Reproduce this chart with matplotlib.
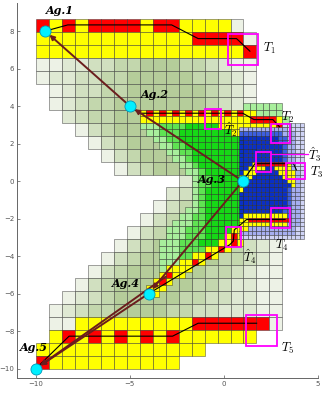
import matplotlib
matplotlib.use('Agg')
import matplotlib.pyplot as plt
from matplotlib.patches import Rectangle
from matplotlib.collections import PatchCollection

# ---------------- data ----------------
agent_names = ['Ag.1', 'Ag.2', 'Ag.3', 'Ag.4', 'Ag.5']
agent_x = [-9.5, -5.0, 1.0, -4.0, -10.0]
agent_y = [8.0, 4.0, 0.0, -6.0, -10.0]
agent_label_xy = [(-9.45, 9.1), (-4.4, 4.6), (-1.4, 0.1), (-5.97, -5.45), (-10.85, -8.9)]

# brown arrows (from -> to)
arrow_from = [(-5.0, 4.0), (1.0, 0.0), (1.0, 0.0), (-4.0, -6.0), (-3.1, -5.1)]
arrow_to = [(-9.5, 8.0), (-5.0, 4.0), (-4.0, -6.0), (-10.0, -10.0), (-10.0, -10.0)]

# planned paths (black)
path1_x = [-9.5, -8.3, -2.78, -1.37, 0.67, 1.38]
path1_y = [8.0, 8.33, 8.33, 7.6, 7.6, 6.93]
path2_x = [-5.0, -4.5, 1.0, 1.6, 2.6, 2.95]
path2_y = [4.0, 3.62, 3.62, 3.28, 3.28, 2.9]
path3_x = [1.0, 1.65, 3.7, 3.85]
path3_y = [0.0, 0.93, 0.93, 0.6]
path4_x = [3.25, 1.2, 0.85, 0.55, 0.5, 0.3, -4.0]
path4_y = [-2.05, -2.05, -2.35, -2.6, -3.2, -3.4, -6.0]
path5_x = [-10.0, -8.23, -2.73, -1.37, 1.74]
path5_y = [-10.0, -8.27, -8.27, -7.58, -7.58]

# target boxes: x0, y0, w, h
target_boxes = [(0.2, 6.19, 1.62, 1.63), (2.5, 2.04, 1.0, 1.0), (-1.0, 2.8, 0.85, 1.07),
                (3.28, 0.09, 1.03, 0.85), (1.7, 0.5, 0.8, 1.03), (2.5, -2.52, 1.01, 1.07),
                (0.1, -3.5, 0.8, 1.04), (1.17, -8.78, 1.65, 1.62)]
target_labels = [r'$T_1$', r'$T_2$', r'$\hat{T}_2$', r'$T_3$', r'$\hat{T}_3$', r'$T_4$', r'$\hat{T}_4$', r'$T_5$']
target_label_xy = [(2.4, 7.05), (3.4, 3.38), (0.36, 2.75), (4.9, 0.48), (4.85, 1.4),
                   (3.05, -3.45), (1.4, -4.05), (3.36, -8.95)]

# coarse cells (0.69), rows top (y=8.63) to bottom (y=-10), cols from x=-10
coarse_rows = [
    "RYRYRRRRYRRYYYY1...",
    "YYYYYYYYYYYYRRRR1..",
    "YYYYYYYYYYYYYYYYR..",
    "11223344555443211..",
    "12233445555544321..",
    ".1233445555554321..",
    ".1234455555554321..",
    "..234455555554321..",
    "...13455555543321..",
    "....1345555543321..",
    ".....134555543321..",
    "......13455543321..",
    "...........23455432",
    "..........234554321",
    ".........1345554321",
    "........13455554321",
    ".......134555554321",
    "......1345555554321",
    ".....13455555544321",
    "....134555555443211",
    "...1345555554432211",
    "..12345555544332211",
    ".123445555443322211",
    ".11YYYYYYYYYRRRRRR1",
    ".YRYRYRYRYRYYYYYY..",
    "YYYYYYYYYYYYY......",
    "RYYYYYYYYYY........",
]

# fine cells (0.345), rows top (k=40) to bottom (k=11), cols from x=-4.48
fine_rows = [
    "................llllll.",
    "yryryryryryryryryyllll.",
    "yyyyyyyyyyyyyyyyyrrrryl",
    "lllmmmmGGGGGyyyyyyyyyry",
    ".llmmmGGGGGGGGyy.......",
    "..llmmGGGGGGGGGG.......",
    "...llmmGGGGGGGGG.......",
    "....llmmGGGGGGGG.......",
    ".....llmGGGGGGGG.......",
    "......llmGGGGGGG.......",
    ".......llmGGGGGG.......",
    "........lmmGGGGG.......",
    "........lmmGGGGG.......",
    "........lmGGGGGG.......",
    "........lmGGGGGG.......",
    "........lmGGGGGG.......",
    ".......llmGGGGGG.......",
    "......llmmGGGGGG.......",
    ".....lllmmGGGGGG.......",
    "....lllmmmGGGGyy.......",
    "....lllmmmGGGyry.......",
    "...lllmmmGGGyyry.......",
    "...lllmmmmyyry.........",
    "...lllmmyyry...........",
    "...lllyyry.............",
    "...lyyyy...............",
    "...yryy................",
    "..yry..................",
    ".yyy...................",
    ".ry....................",
]

# finest cells (0.23) around Ag.3, rows top (k=56) to bottom (k=30), cols from x=0.81
blue_rows = [
    "..........ccccc",
    "bbbbbbbbbbbcccc",
    "BBBBBBBBBBbbbcc",
    "DDDDDDDDDBBbbcc",
    "DDDDDDDDDBBbbcc",
    "DDDDDDDDDDBbbcc",
    "DDDDDDDDDDBbbcc",
    "DDDDDDDDDDBbbcc",
    "DDDDDDDDDDBbbcc",
    "DDDyrrrrrrrybcc",
    "DDyyyyDDyyyybcc",
    "DyyyDDDDDyyyybc",
    "yyyDDDDDDDyyybc",
    "yyDDDDDDDDDyybc",
    "yDDDDDDDDDDDybc",
    "yDDDDDDDDDDBbbc",
    "DDDDDDDDDDDBbbc",
    "DDDDDDDDDDDBbbc",
    "DDDDDDDDDDDBbbc",
    "DDDDDDDDDDDBbbc",
    "DDDDDDDDDDBBbbc",
    "DyyyyyyyyyyBbbc",
    "yyrrrrrrrrrrbbc",
    "yyyyyyyyyyybbbc",
    "yybbbbbbbbbbbcc",
    "bbbbbbbbbbbbbcc",
    "ccccccccccccccc",
]

palette = {
    'R': '#ff0000', 'r': '#ff0000', 'Y': '#ffff00', 'y': '#ffff00',
    '1': '#edf2e6', '2': '#dfe9d3', '3': '#d1e0c0', '4': '#c3d7ad', '5': '#b5cd9a',
    'l': '#a8ee9c', 'm': '#5fe352', 'G': '#16d816',
    'D': '#0a2fc6', 'B': '#3d5fe0', 'b': '#a6aef0', 'c': '#cfd3f5',
}


def draw_cells(ax, rows, x0, y0, size):
    rects, colors = [], []
    n = len(rows)
    for r, line in enumerate(rows):
        y = y0 + (n - 1 - r) * size
        for c, ch in enumerate(line):
            if ch == '.':
                continue
            rects.append(Rectangle((x0 + c * size, y), size, size))
            colors.append(palette[ch])
    pc = PatchCollection(rects, facecolors=colors, edgecolors=(0.15, 0.15, 0.15, 0.75),
                         linewidths=0.4)
    ax.add_collection(pc)


plt.rcParams['mathtext.fontset'] = 'cm'
fig = plt.figure(figsize=(3.32, 3.96), dpi=100)
ax = fig.add_axes([0.0512, 0.0455, 0.9066, 0.947])

draw_cells(ax, coarse_rows, -10.0, -10.0, 0.69)
draw_cells(ax, fine_rows, -10 + 0.345 * 16, -10 + 0.345 * 11, 0.345)
draw_cells(ax, blue_rows, -10 + 0.23 * 47, -10 + 0.23 * 30, 0.23)

# planned paths
for px, py in [(path1_x, path1_y), (path2_x, path2_y), (path3_x, path3_y),
               (path4_x, path4_y), (path5_x, path5_y)]:
    ax.plot(px, py, color='black', lw=0.8, zorder=4)

# target boxes and labels
for (bx, by, bw, bh), lab, (lx, ly) in zip(target_boxes, target_labels, target_label_xy):
    ax.add_patch(Rectangle((bx, by), bw, bh, fill=False, ec='#ff00ff', lw=1.3, zorder=5))
    ax.text(lx, ly, lab, fontsize=9, ha='center', va='center', zorder=7)
ax.plot([2.5, 4.45], [1.47, 1.47], color='#ff00ff', lw=0.9, zorder=5)

# arrows between agents
for (sx, sy), (tx, ty) in zip(arrow_from, arrow_to):
    ax.annotate('', xy=(tx, ty), xytext=(sx, sy), zorder=6,
                arrowprops=dict(arrowstyle='-|>', color='#6b1d1d', lw=1.4,
                                mutation_scale=7, shrinkA=0, shrinkB=4))

ax.plot(agent_x, agent_y, 'o', ms=8, mfc='#00f0ff', mec='#0098b8', mew=0.6, zorder=8)
for name, (lx, ly) in zip(agent_names, agent_label_xy):
    ax.text(lx, ly, name, fontsize=8, family='DejaVu Serif', style='italic',
            weight='bold', ha='left', va='center', zorder=9)

ax.set_xlim(-11, 5)
ax.set_ylim(-10.5, 9.5)
ax.set_xticks([-10, -5, 0, 5])
ax.set_yticks([-10, -8, -6, -4, -2, 0, 2, 4, 6, 8])
ax.tick_params(direction='in', length=2, width=0.5, labelsize=5, colors='#555555', pad=2)
for s in ['top', 'right']:
    ax.spines[s].set_visible(False)
for s in ['left', 'bottom']:
    ax.spines[s].set_color('#666666')
    ax.spines[s].set_linewidth(0.7)

fig.savefig('out.png', dpi=100)
